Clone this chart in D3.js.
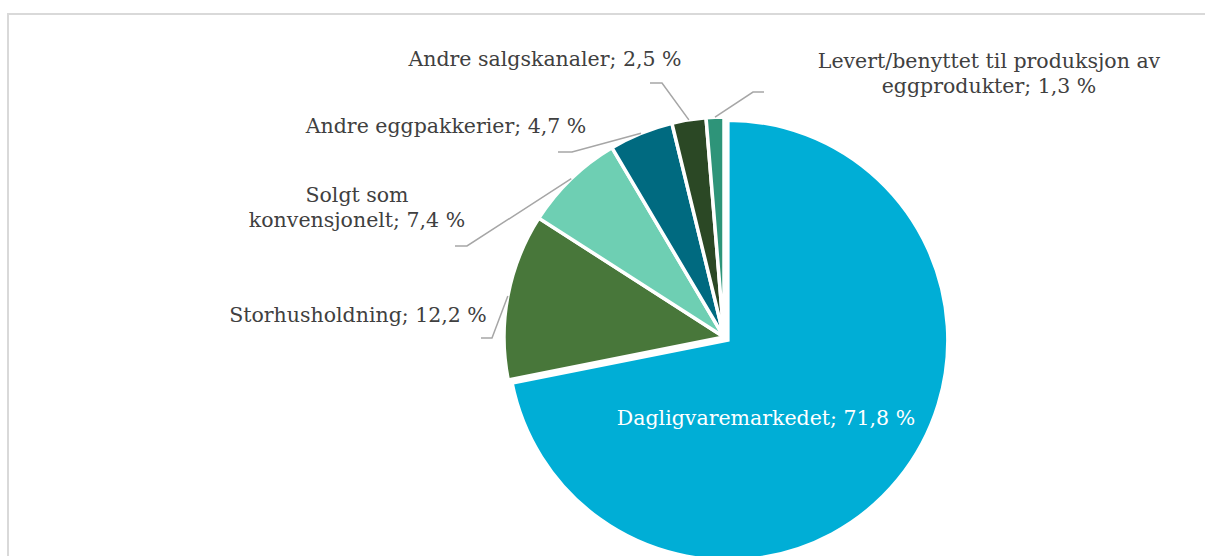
<!DOCTYPE html>
<html>
<head>
<meta charset="utf-8">
<script src="https://cdn.jsdelivr.net/npm/d3@7.9.0/dist/d3.min.js"></script>
<style>
  body { margin: 0; background: #fff; }
  svg { display: block; }
  text { font-family: "DejaVu Serif", Georgia, serif; font-size: 20.5px; fill: #404040; }
</style>
</head>
<body>
<svg width="1205" height="556"></svg>
<script>
// data
const categories = [
  "Dagligvaremarkedet",
  "Storhusholdning",
  "Solgt som konvensjonelt",
  "Andre eggpakkerier",
  "Andre salgskanaler",
  "Levert/benyttet til produksjon av eggprodukter"
];
const shares = [71.8, 12.2, 7.4, 4.7, 2.5, 1.3];
const colors = ["#00aed6", "#48773a", "#6ecfb3", "#006a80", "#2b4825", "#2e9479"];

// label text lines (each entry one label)
const labelLines = [
  ["Dagligvaremarkedet; 71,8 %"],
  ["Storhusholdning; 12,2 %"],
  ["Solgt som", "konvensjonelt; 7,4 %"],
  ["Andre eggpakkerier; 4,7 %"],
  ["Andre salgskanaler; 2,5 %"],
  ["Levert/benyttet til produksjon av", "eggprodukter; 1,3 %"]
];

// layout for labels: text centre x, first baseline y, leader elbow (ex, ey) and end x (hx)
const labelLayout = [
  { x: 766, y: 425, inside: true },
  { x: 358, y: 322, ex: 492, ey: 338, hx: 481 },
  { x: 357, y: 202, ex: 467, ey: 246, hx: 455 },
  { x: 446, y: 133, ex: 572, ey: 152, hx: 558 },
  { x: 545, y: 66,  ex: 662, ey: 83,  hx: 650 },
  { x: 989, y: 68,  ex: 753, ey: 92,  hx: 764 }
];

const cx = 724, cy = 337, radius = 220;
const svg = d3.select("svg");

// chart frame
svg.append("rect")
  .attr("x", 8).attr("y", 14)
  .attr("width", 1260).attr("height", 600)
  .attr("fill", "none")
  .attr("stroke", "#d9d9d9")
  .attr("stroke-width", 2);

const data = categories.map((c, i) => ({ label: c, value: shares[i], idx: i }));
const pie = d3.pie().sort(null).value(d => d.value);
const arc = d3.arc().innerRadius(0).outerRadius(radius);
const arcs = pie(data);

const g = svg.append("g").attr("transform", `translate(${cx},${cy})`);

g.selectAll("path")
  .data(arcs)
  .join("path")
  .attr("d", arc)
  .attr("fill", d => colors[d.data.idx])
  .attr("stroke", "#fff")
  .attr("stroke-width", 3.5)
  .attr("stroke-linejoin", "miter")
  .attr("transform", d => {
    // the big slice is pulled out a little
    if (d.data.idx !== 0) return null;
    const mid = (d.startAngle + d.endAngle) / 2;
    return `translate(${5 * Math.sin(mid)},${-5 * Math.cos(mid)})`;
  });

// leader lines
const leaders = arcs.filter(d => !labelLayout[d.data.idx].inside);
svg.selectAll("polyline.leader")
  .data(leaders)
  .join("polyline")
  .attr("class", "leader")
  .attr("fill", "none")
  .attr("stroke", "#a6a6a6")
  .attr("stroke-width", 1.5)
  .attr("points", d => {
    const mid = (d.startAngle + d.endAngle) / 2;
    const L = labelLayout[d.data.idx];
    const px = cx + radius * Math.sin(mid);
    const py = cy - radius * Math.cos(mid);
    return [[px, py], [L.ex, L.ey], [L.hx, L.ey]].map(p => p.join(",")).join(" ");
  });

// labels
const labels = svg.selectAll("text.lbl")
  .data(data)
  .join("text")
  .attr("class", "lbl")
  .attr("text-anchor", "middle")
  .style("fill", d => labelLayout[d.idx].inside ? "#ffffff" : "#404040");

labels.selectAll("tspan")
  .data(d => labelLines[d.idx].map((t, k) => ({ t, k, L: labelLayout[d.idx] })))
  .join("tspan")
  .attr("x", d => d.L.x)
  .attr("y", d => d.L.y + d.k * 25)
  .text(d => d.t);
</script>
</body>
</html>
